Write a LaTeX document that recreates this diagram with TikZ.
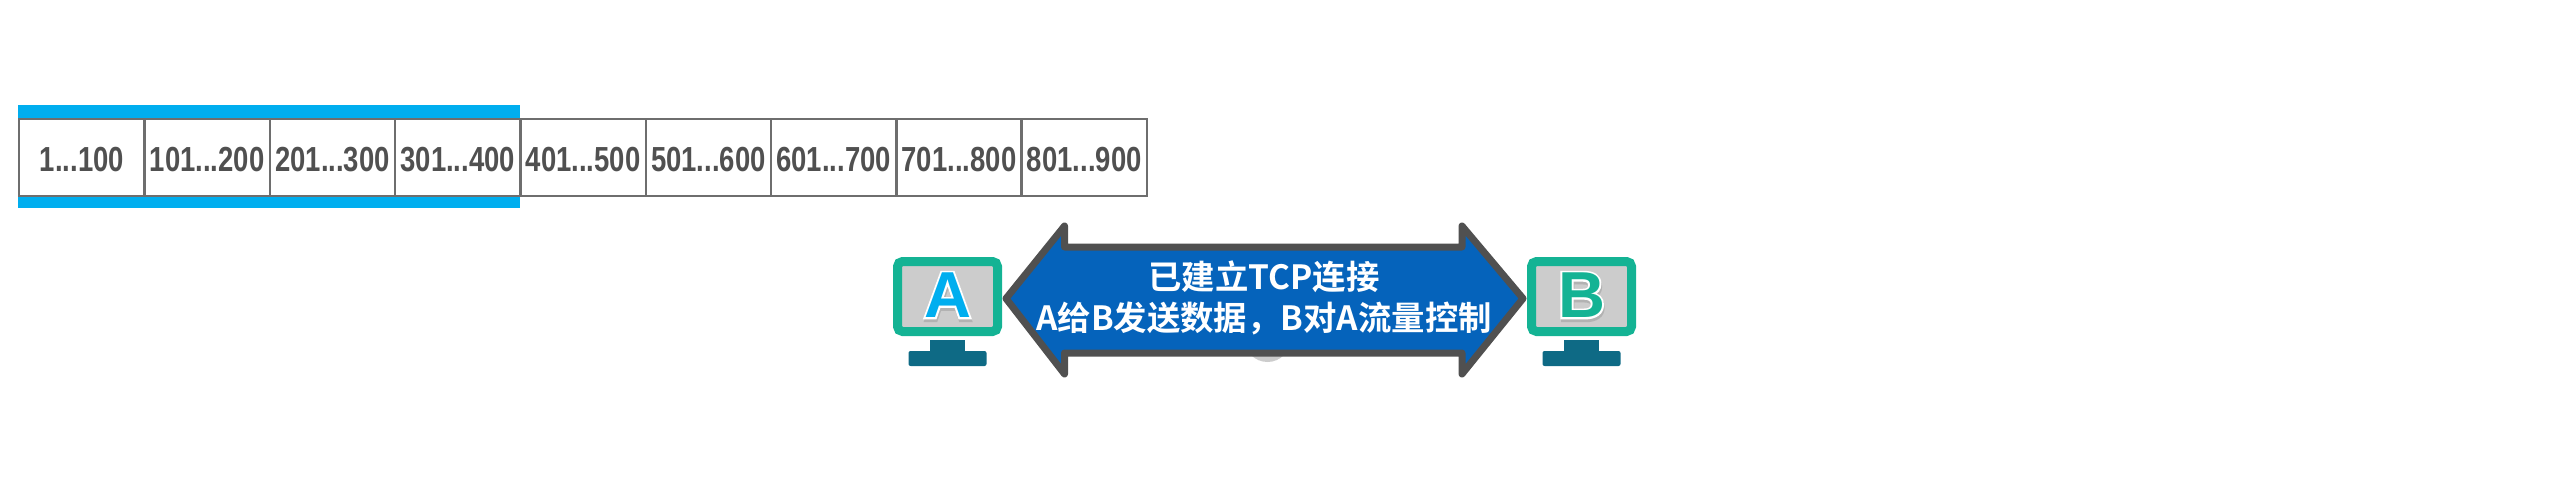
\documentclass[tikz,border=0pt]{standalone}
\usepackage{fontspec}
\setmainfont{Liberation Sans}
\newfontfamily\cellfont[FakeStretch=.79]{Liberation Sans Bold}
\newfontfamily\hostfont{Liberation Sans Bold}
\newfontfamily\hostfat[FakeBold=6]{Liberation Sans Bold}
\newfontfamily\cjkbold{Noto Sans CJK SC Bold}
\definecolor{clborder}{HTML}{6E6E6E}
\definecolor{cltext}{HTML}{505050}
\definecolor{clbar}{HTML}{00AEEF}
\definecolor{clteal}{HTML}{14B394}
\definecolor{clstand}{HTML}{0E6A85}
\definecolor{clscreen}{HTML}{CCCCCC}
\definecolor{clarrow}{HTML}{0563BB}
\definecolor{cledge}{HTML}{505050}
\newcommand*{\hostletter}[2]{\makebox[0pt]{\raisebox{-.8pt}{\color{black!30}\hostfat\kern.4pt #2}}\makebox[0pt]{\color{white}\hostfat #2}\makebox[0pt]{\color{#1}\hostfont #2}}
\tikzset{
    seqcell/.style={draw=clborder, line width=.7pt, anchor=west, minimum width=1.253cm, minimum height=.773cm, inner sep=0pt, text height=7.8pt, text depth=0pt, text=cltext, font=\cellfont\fontsize{9.9}{12}\selectfont},
    hostbox/.style={draw=clteal, fill=clscreen, line width=.09cm, rounded corners=.05cm, minimum width=1cm, minimum height=.7cm, inner sep=0pt, font=\fontsize{18.5}{20}\selectfont}
}

\begin{document}
\begin{tikzpicture}
    \useasboundingbox(0, 0)rectangle(25.52, 4.96);
    % window
    \fill[clbar](.18, 3.91)rectangle(5.20, 3.77);
    \fill[clbar](.18, 3.00)rectangle(5.20, 2.88);
    % sequence numbers
    \foreach \i/\lo/\hi in {0/1/100, 1/101/200, 2/201/300, 3/301/400, 4/401/500, 5/501/600, 6/601/700, 7/701/800, 8/801/900}
        \node[seqcell](cell\i) at(.18+1.253*\i, 3.386){\lo...\hi};
    % hosts
    \foreach \x/\n/\c in {9.475/A/clbar, 15.815/B/clteal}{
        \node[hostbox](host\n) at(\x, 1.995){\hostletter{\c}{\n}};
        \fill[clstand](\x-.175, 1.56)rectangle(\x+.175, 1.42);
        \fill[clstand, rounded corners=.02cm](\x-.39, 1.45)rectangle(\x+.39, 1.30);
    }
    % link
    \fill[clscreen](12.675, 1.57)circle(.23);
    \draw[cledge, fill=clarrow, line width=.07cm, line join=round](10.06, 1.975)--(10.645, 2.70)--(10.645, 2.49)--(14.62, 2.49)--(14.62, 2.70)--(15.23, 1.975)--(14.62, 1.22)--(14.62, 1.43)--(10.645, 1.43)--(10.645, 1.22)--cycle;
    \node[text=white, align=center, font=\cjkbold\fontsize{9.5}{11.5}\selectfont](link) at(12.64, 1.98){已建立TCP连接\\A给B发送数据，B对A流量控制};
\end{tikzpicture}
\end{document}
